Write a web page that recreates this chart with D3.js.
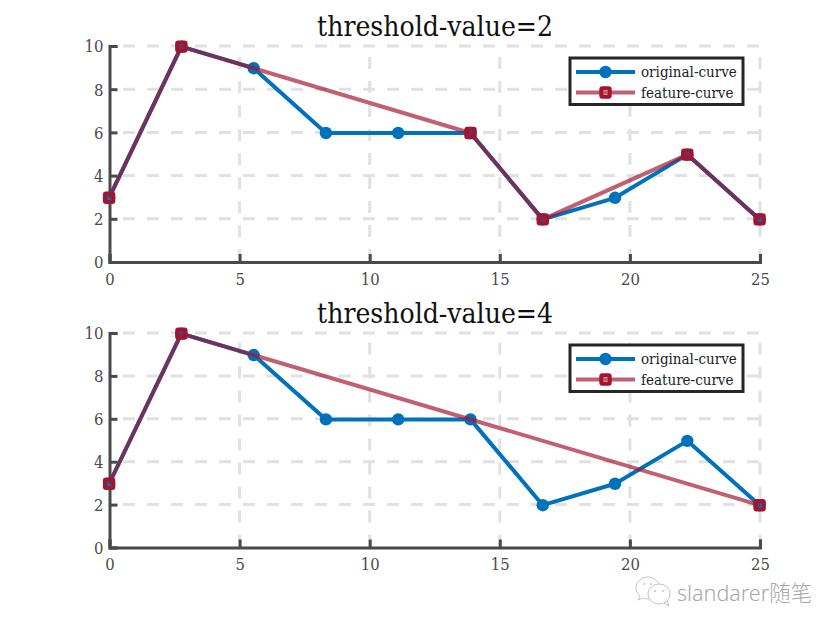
<!DOCTYPE html>
<html><head><meta charset="utf-8">
<script src="https://cdn.jsdelivr.net/npm/d3@7"></script>
<style>html,body{margin:0;padding:0;background:#fff}svg{display:block}text{font-family:"DejaVu Serif Condensed","DejaVu Serif",serif}</style>
</head><body><svg id="c" width="840" height="630"></svg>
<script>
const pointIndex = [0,1,2,3,4,5,6,7,8,9];
const xMax = 25;
const originalValues = [3,10,9,6,6,6,2,3,5,2];
const featureIndexA = [0,1,5,6,8,9];
const featureIndexB = [0,1,9];
const titles = ["threshold-value=2","threshold-value=4"];
const xTicks = [0,5,10,15,20,25];
const yTicks = [0,2,4,6,8,10];
const seriesNames = ["original-curve","feature-curve"];
const watermark = "slandarer随笔";

const BLUE="#0072BD", RED="#A2142F", AXIS="#4a4a4a", GRID="#e1e1e1";
const svg=d3.select("#c");
const xOf=i=>xMax*i/9;
const x=d3.scaleLinear().domain([0,xMax]).range([109.5,760]);

function marker(g,cx,cy,kind){
  if(kind==="o"){
    g.append("circle").attr("cx",cx).attr("cy",cy).attr("r",6.2).attr("fill",BLUE);
  }else{
    g.append("rect").attr("x",cx-4.2).attr("y",cy-4.2).attr("width",8.4).attr("height",8.4)
     .attr("rx",1).attr("fill","none").attr("stroke",RED).attr("stroke-width",4);
  }
}

function panel(top,bottom,title,feature){
  const y=d3.scaleLinear().domain([0,10]).range([bottom,top]);
  const g=svg.append("g");
  xTicks.slice(1).forEach(t=>g.append("line").attr("x1",x(t)).attr("x2",x(t)).attr("y1",bottom).attr("y2",top)
    .attr("stroke",GRID).attr("stroke-width",3).attr("stroke-dasharray","12 12").attr("stroke-dashoffset",23));
  yTicks.slice(1).forEach(t=>g.append("line").attr("x1",x(0)).attr("x2",x(xMax)).attr("y1",y(t)).attr("y2",y(t))
    .attr("stroke",GRID).attr("stroke-width",3).attr("stroke-dasharray","12 12").attr("stroke-dashoffset",10.5));
  const ax=d3.axisBottom(x).tickValues(xTicks).tickSize(-8).tickFormat(d3.format("d"));
  const ay=d3.axisLeft(y).tickValues(yTicks).tickSize(-8).tickFormat(d3.format("d"));
  const gx=g.append("g").attr("transform",`translate(0,${bottom})`).call(ax);
  const gy=g.append("g").attr("transform",`translate(${x(0)},0)`).call(ay);
  [gx,gy].forEach(a=>{
    a.select(".domain").attr("stroke",AXIS).attr("stroke-width",3);
    a.selectAll(".tick line").attr("stroke",AXIS).attr("stroke-width",3);
    a.selectAll("text").attr("fill",AXIS).attr("font-size",16.5).attr("font-family","DejaVu Serif Condensed");
  });
  gx.selectAll("text").attr("y",11).attr("dy","0.71em");
  gy.selectAll("text").attr("x",-6).attr("dy","0.36em");
  const line=d3.line().x(i=>x(xOf(i))).y(i=>y(originalValues[i]));
  const s=g.append("g").attr("transform","translate(-0.4,0.6)");
  s.append("path").attr("d",line(pointIndex)).attr("fill","none").attr("stroke",BLUE).attr("stroke-width",4).attr("stroke-linejoin","round");
  pointIndex.forEach(i=>marker(s,x(xOf(i)),y(originalValues[i]),"o"));
  s.append("path").attr("d",line(feature)).attr("fill","none").attr("stroke",RED).attr("stroke-opacity",0.68).attr("stroke-width",4).attr("stroke-linejoin","round");
  feature.forEach(i=>marker(s,x(xOf(i)),y(originalValues[i]),"s"));
  g.append("text").attr("x",435).attr("y",top-10).attr("text-anchor","middle").attr("font-size",28).attr("fill","#111").text(title);
  const ly=top+12;
  g.append("rect").attr("x",570).attr("y",ly).attr("width",173).attr("height",46.5).attr("fill","#fff").attr("stroke","#262626").attr("stroke-width",3);
  seriesNames.forEach((n,k)=>{
    const ry=ly+14+k*20.5;
    g.append("line").attr("x1",576).attr("x2",635).attr("y1",ry).attr("y2",ry).attr("stroke",k?RED:BLUE).attr("stroke-opacity",k?0.68:1).attr("stroke-width",4);
    marker(g,605.5,ry,k?"s":"o");
    g.append("text").attr("x",641).attr("y",ry+5).attr("font-size",15).attr("fill","#222").text(n);
  });
}
panel(46,262,titles[0],featureIndexA);
panel(333,547.5,titles[1],featureIndexB);

const W="#c4c4c4";
const w=svg.append("g").attr("fill","none").attr("stroke",W).attr("stroke-width",1);
w.append("path").attr("d","M660 588 C660 582 654 577 648 577 C641 577 636 582 636 588 C636 591 637 594 640 596 L638 600 L643 598 C645 599 647 599 649 599");
w.append("ellipse").attr("cx",659).attr("cy",594).attr("rx",11).attr("ry",10).attr("fill","#fff");
w.append("path").attr("d","M664 603 L669 606 L667 601");
[[644,584],[651,584],[655,591],[663,591]].forEach(p=>w.append("circle").attr("cx",p[0]).attr("cy",p[1]).attr("r",1).attr("fill",W).attr("stroke","none"));
svg.append("text").attr("x",677).attr("y",601).attr("font-size",21.5).attr("fill","#a8a8a8")
  .style("font-family","'Noto Sans','Noto Sans CJK SC',sans-serif").style("font-weight",300).text(watermark);
</script></body></html>
